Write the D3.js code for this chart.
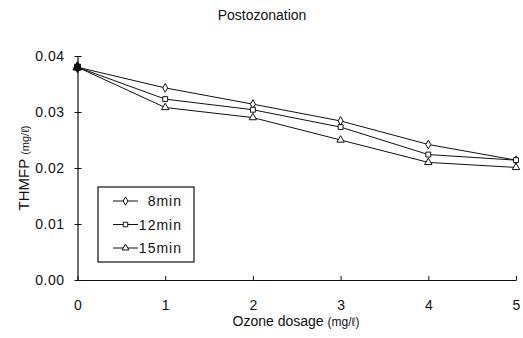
<!DOCTYPE html>
<html><head><meta charset="utf-8">
<script src="https://cdn.jsdelivr.net/npm/d3@7"></script>
<style>body{margin:0;background:#fff}svg{display:block}text{font-family:"Liberation Sans",Arial,sans-serif;fill:#111}</style>
</head><body><svg id="c" width="523" height="338"></svg>
<script>
const dosage = [0, 1, 2, 3, 4, 5];
const xTicks = [0, 1, 2, 3, 4, 5];
const yTicks = [0, 0.01, 0.02, 0.03, 0.04];
const seriesNames = ["8min", "12min", "15min"];
const seriesSymbols = ["diamond", "square", "triangle"];
const v8 = [0.038, 0.0343, 0.0314, 0.0284, 0.0242, 0.0214];
const v12 = [0.038, 0.0323, 0.0304, 0.0273, 0.0224, 0.0214];
const v15 = [0.038, 0.0308, 0.0290, 0.0250, 0.0210, 0.0201];
const seriesValues = [v8, v12, v15];

const svg = d3.select("#c");
const x = d3.scaleLinear().domain([0, 5]).range([77.5, 516]);
const y = d3.scaleLinear().domain([0, 0.04]).range([280, 56]);
const symType = {diamond: d3.symbolDiamond, square: d3.symbolSquare, triangle: d3.symbolTriangle};

// title
svg.append("text").attr("x", 262).attr("y", 20).attr("text-anchor", "middle").attr("font-size", 14).text("Postozonation");

// axes
const ya = svg.append("g").attr("transform", `translate(${x(0)},0)`)
  .call(d3.axisLeft(y).tickValues(yTicks).tickFormat(d3.format(".2f")).tickSizeInner(-4).tickSizeOuter(0).tickPadding(13));
const xa = svg.append("g").attr("transform", `translate(0,${y(0)})`)
  .call(d3.axisBottom(x).tickValues(xTicks).tickFormat(d3.format("d")).tickSizeInner(-4).tickSizeOuter(0).tickPadding(20));
[ya, xa].forEach(g => {
  g.selectAll("path.domain").attr("stroke", "#111").attr("stroke-width", 1.2);
  g.selectAll(".tick line").attr("stroke", "#111");
  g.selectAll("text").attr("font-size", 14).attr("fill", "#111").attr("font-family", "Liberation Sans, Arial, sans-serif");
});
ya.selectAll("text").attr("letter-spacing", 0.5);
ya.selectAll(".tick line").attr("x1", -3).attr("x2", 4);

// axis titles
const xt = svg.append("text").attr("x", 296).attr("y", 326).attr("text-anchor", "middle").attr("font-size", 14);
xt.append("tspan").text("Ozone dosage ");
xt.append("tspan").attr("font-size", 12).text("(mg/ℓ)");
const yt = svg.append("text").attr("transform", "translate(29,168) rotate(-90)").attr("text-anchor", "middle").attr("font-size", 15);
yt.append("tspan").text("THMFP ");
yt.append("tspan").attr("font-size", 11).text("(mg/ℓ)");

// lines
const line = d3.line().x((d, i) => x(dosage[i])).y(d => y(d));
seriesValues.forEach(vals => {
  svg.append("path").datum(vals).attr("d", line).attr("fill", "none").attr("stroke", "#111").attr("stroke-width", 1);
});
[0, 2, 1].forEach(s => {
  svg.selectAll(null).data(seriesValues[s]).enter().append("path")
    .attr("transform", (d, i) => `translate(${x(dosage[i])},${y(d)})`)
    .attr("d", d3.symbol().type(i => symType[seriesSymbols[s]]).size((d, i) => i === 0 ? 36 : (s === 0 ? 22 : 24)))
    .attr("fill", (d, i) => i === 0 ? "#111" : "#fff").attr("stroke", "#111").attr("stroke-width", 1);
});

// legend
const lg = svg.append("g");
lg.append("rect").attr("x", 98).attr("y", 187).attr("width", 96).attr("height", 75).attr("fill", "#fff").attr("stroke", "#111").attr("stroke-width", 1.2);
seriesNames.forEach((n, i) => {
  const yy = 201 + i * 23.5;
  lg.append("line").attr("x1", 113).attr("x2", 138).attr("y1", yy).attr("y2", yy).attr("stroke", "#111");
  lg.append("path").attr("transform", `translate(125.5,${yy})`).attr("d", d3.symbol().type(symType[seriesSymbols[i]]).size(20)).attr("fill", "#fff").attr("stroke", "#111");
  lg.append("text").attr("x", 182).attr("y", yy + 5).attr("text-anchor", "end").attr("font-size", 14).attr("letter-spacing", 1).text(n);
});
</script></body></html>
